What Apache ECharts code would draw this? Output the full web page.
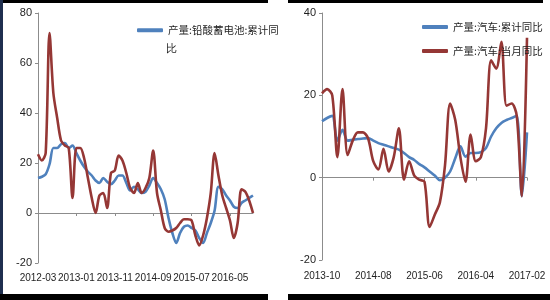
<!DOCTYPE html>
<html><head><meta charset="utf-8">
<script src="https://cdn.jsdelivr.net/npm/echarts@6/dist/echarts.min.js"></script>
<style>html,body{margin:0;padding:0;background:#fff}#c{width:550px;height:300px}</style>
</head><body><div id="c"></div>
<script>
function months(y, m, n) {
  const out = [];
  for (let i = 0; i < n; i++) {
    out.push(y + '-' + (m < 10 ? '0' + m : '' + m));
    m++; if (m > 12) { m = 1; y++; }
  }
  return out;
}
// Left chart: lead-acid battery output, 2012-03 .. 2016-11
const leftCategories = months(2012, 3, 57);
const leftCumulative = [14,14.5,15.5,19.5,26,26,27.5,28,26,27,24,21,18.5,16.5,15,13,12,14,12.5,11.5,13,15,15,12,9,10.5,9.5,8,8.5,11,14,12,9.5,5.5,-2,-8,-12,-8,-5.5,-5,-6,-7,-10,-12,-8,-4,1,10.5,9.5,7,5,2.5,2,4,5,6,7];
const leftMonthly = [23.5,21,24,72,48,38,29,27,26,6,26,26,22,14,6,0,7,8,2,16,17,23,21,16,10,8,12,8,10,14,25,8,1,-6,-7.5,-7,-6,-4,-2.5,-2.5,-3,-9,-13,-9,-2,8,24,15,7,2,-3,-10,-4,9.5,8.5,5,0];
// Right chart: auto output, 2013-10 .. 2017-02
const rightCategories = months(2013, 10, 41);
const rightCumulative = [13.7,14.5,15,9,11.6,9,9.2,9.4,9.5,9.6,9,8.4,8,7.6,7.2,6.8,6,5,4.3,3.3,2.5,1.5,0.5,-0.6,0,1.5,4.7,7.6,5.1,6,6,6.2,7.2,10,12,13.3,14,14.5,15,-4.5,11];
const rightMonthly = [20.5,21.5,20,5,21.5,5.5,9,11,11,9.5,4,2,7,1.5,5,12,-0.5,4,0.5,-0.5,-1,-12,-9,-6,3,18,14,5,-1,10.5,4,5,12,28.5,26.5,33,17.5,18,15,-4.5,34];

const leftNames = ['产量:铅酸蓄电池:累计同比', '产量:铅酸蓄电池:当月同比'];
const rightNames = ['产量:汽车:累计同比', '产量:汽车:当月同比'];

const BLUE = '#4f81bd', RED = '#953735', AXIS = '#8c8c8c', TXT = '#1e1e1e';
const NUMFONT = "'Liberation Sans',Arial,sans-serif";
const CJK = "'Noto Sans CJK SC','Microsoft YaHei',sans-serif";

function zeroX(grid, data) {
  return { gridIndex: grid, type: 'category', data: data, boundaryGap: false,
    axisLine: { onZero: true, lineStyle: { color: AXIS, width: 1 } },
    axisTick: { interval: 9, length: 3, lineStyle: { color: AXIS } },
    axisLabel: { show: false }, splitLine: { show: false } };
}
function labelX(grid, data, margin) {
  return { gridIndex: grid, type: 'category', data: data, boundaryGap: false, position: 'bottom',
    axisLine: { show: false, onZero: false }, axisTick: { show: false },
    axisLabel: { interval: 9, margin: margin, fontSize: 10, color: TXT, fontFamily: NUMFONT,
      hideOverlap: false, showMinLabel: true },
    splitLine: { show: false } };
}
function yAx(grid, min, max) {
  return { gridIndex: grid, type: 'value', min: min, max: max, interval: 20,
    axisLine: { show: true, lineStyle: { color: AXIS } },
    axisTick: { show: true, length: 3, lineStyle: { color: AXIS } },
    axisLabel: { margin: 6, fontSize: 11, color: TXT, fontFamily: NUMFONT },
    splitLine: { show: false } };
}
function line(name, x, y, data, color) {
  return { name: name, type: 'line', xAxisIndex: x, yAxisIndex: y, data: data,
    smooth: 0.3, showSymbol: false, symbol: 'none',
    lineStyle: { color: color, width: 2.6 }, itemStyle: { color: color }, emphasis: { disabled: true } };
}

const chart = echarts.init(document.getElementById('c'), null, { renderer: 'canvas' });
chart.setOption({
  animation: false,
  backgroundColor: '#fff',
  grid: [
    { left: 38, right: 297, top: 13, bottom: 37 },
    { left: 322, right: 23, top: 13, bottom: 40 }
  ],
  xAxis: [ zeroX(0, leftCategories), labelX(0, leftCategories, 10),
           zeroX(1, rightCategories), labelX(1, rightCategories, 11) ],
  yAxis: [ yAx(0, -20, 80), yAx(1, -20, 40) ],
  legend: [
    { data: [leftNames[0]], left: 137, top: 25, padding: 0, orient: 'vertical',
      icon: 'roundRect', itemWidth: 26, itemHeight: 4,
      formatter: function () { return '产量:铅酸蓄电池:累计同'; },
      textStyle: { fontSize: 10.5, color: TXT, fontFamily: CJK } },
    { data: rightNames, left: 422, top: 20, padding: 0, orient: 'vertical', itemGap: 10,
      icon: 'roundRect', itemWidth: 26, itemHeight: 4,
      textStyle: { fontSize: 10.5, color: TXT, fontFamily: CJK, lineHeight: 14 } }
  ],
  series: [
    line(leftNames[0], 0, 0, leftCumulative, BLUE),
    line(leftNames[1], 0, 0, leftMonthly, RED),
    line(rightNames[0], 2, 1, rightCumulative, BLUE),
    line(rightNames[1], 2, 1, rightMonthly, RED)
  ],
  graphic: [
    { type: 'text', left: 166, top: 44, style: { text: '比', fontSize: 10.5, fill: TXT, font: '10.5px ' + CJK } },
    { type: 'rect', shape: { x: 0, y: 0, width: 268, height: 3 }, style: { fill: '#000' } },
    { type: 'rect', shape: { x: 288, y: 0, width: 255, height: 3 }, style: { fill: '#000' } },
    { type: 'rect', shape: { x: 0, y: 294, width: 268, height: 6 }, style: { fill: '#000' } },
    { type: 'rect', shape: { x: 288, y: 294, width: 262, height: 6 }, style: { fill: '#000' } },
    { type: 'rect', shape: { x: 0, y: 0, width: 3, height: 294 }, style: { fill: '#1f2f4f' } }
  ]
});
</script></body></html>
